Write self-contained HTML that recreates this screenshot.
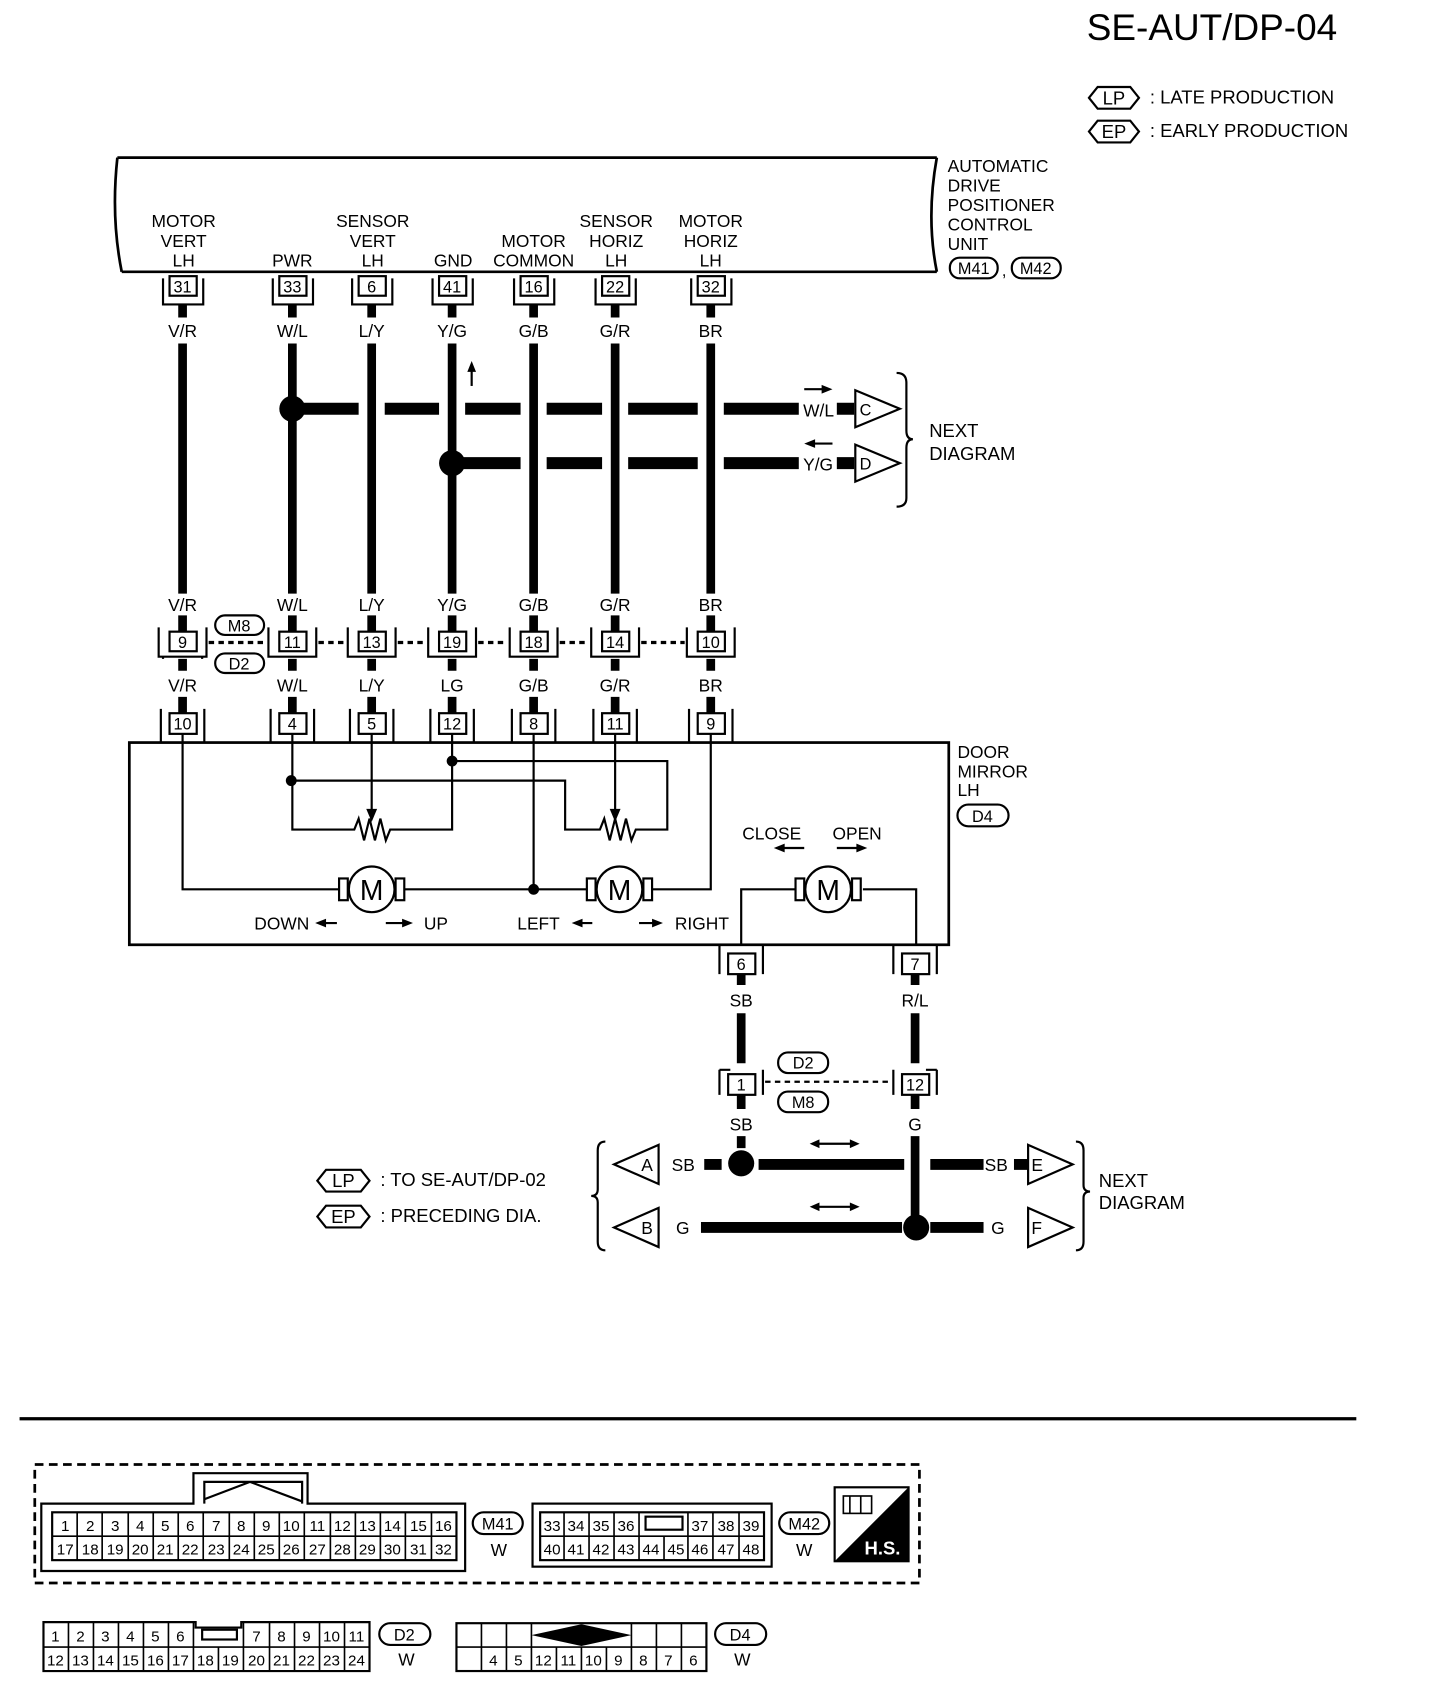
<!DOCTYPE html>
<html><head><meta charset="utf-8"><style>
html,body{margin:0;padding:0;background:#fff;}
svg{display:block;}
text{font-family:"Liberation Sans",Arial,sans-serif;fill:#000;}
</style></head><body>
<svg width="1440" height="1708" viewBox="0 0 1325 1571" preserveAspectRatio="none" xmlns="http://www.w3.org/2000/svg">
<rect width="1325" height="1571" fill="#fff"/>
<!-- title -->
<text x="1000" y="37" font-size="34">SE-AUT/DP-04</text>
<g fill="none" stroke="#000" stroke-width="2">
<path d="M1002,90 l8,-10 h30 l8,10 l-8,10 h-30 z"/>
<path d="M1002,121 l8,-10 h30 l8,10 l-8,10 h-30 z"/>
</g>
<g font-size="17">
<text x="1025" y="96" text-anchor="middle">LP</text>
<text x="1025" y="127" text-anchor="middle">EP</text>
<text x="1058" y="95">: LATE PRODUCTION</text>
<text x="1058" y="126">: EARLY PRODUCTION</text>
</g>

<!-- control unit -->
<g fill="none" stroke="#000" stroke-width="2.5">
<path d="M108,145 H862 M112,250 H862"/>
<path d="M108,145 Q102,200 112,250"/>
<path d="M862,145 Q852,200 862,250"/>
</g>
<g font-size="16">
<text x="872" y="158">AUTOMATIC</text>
<text x="872" y="176">DRIVE</text>
<text x="872" y="194">POSITIONER</text>
<text x="872" y="212">CONTROL</text>
<text x="872" y="230">UNIT</text>
</g>
<g fill="none" stroke="#000" stroke-width="2">
<rect x="874" y="237" width="44" height="19" rx="9"/>
<rect x="931" y="237" width="45" height="19" rx="9"/>
</g>
<g font-size="15" text-anchor="middle">
<text x="896" y="252">M41</text><text x="924" y="254">,</text><text x="953" y="252">M42</text>
</g>
<g font-size="16" text-anchor="middle">
<text x="169" y="209">MOTOR</text><text x="169" y="227">VERT</text><text x="169" y="245">LH</text>
<text x="269" y="245">PWR</text>
<text x="343" y="209">SENSOR</text><text x="343" y="227">VERT</text><text x="343" y="245">LH</text>
<text x="417" y="245">GND</text>
<text x="491" y="227">MOTOR</text><text x="491" y="245">COMMON</text>
<text x="567" y="209">SENSOR</text><text x="567" y="227">HORIZ</text><text x="567" y="245">LH</text>
<text x="654" y="209">MOTOR</text><text x="654" y="227">HORIZ</text><text x="654" y="245">LH</text>
</g>

<!-- top connectors -->
<g fill="none" stroke="#000" stroke-width="2">
<rect x="156" y="254" width="25" height="18"/><path d="M150,256 V280 H187 V256"/>
<rect x="257" y="254" width="25" height="18"/><path d="M251,256 V280 H288 V256"/>
<rect x="330" y="254" width="25" height="18"/><path d="M324,256 V280 H361 V256"/>
<rect x="404" y="254" width="25" height="18"/><path d="M398,256 V280 H435 V256"/>
<rect x="479" y="254" width="25" height="18"/><path d="M473,256 V280 H510 V256"/>
<rect x="554" y="254" width="25" height="18"/><path d="M548,256 V280 H585 V256"/>
<rect x="642" y="254" width="25" height="18"/><path d="M636,256 V280 H673 V256"/>
</g>
<g font-size="15" text-anchor="middle">
<text x="168" y="269">31</text><text x="269" y="269">33</text><text x="342" y="269">6</text><text x="416" y="269">41</text><text x="491" y="269">16</text><text x="566" y="269">22</text><text x="654" y="269">32</text>
</g>
<g font-size="16" text-anchor="middle">
<text x="168" y="310">V/R</text><text x="269" y="310">W/L</text><text x="342" y="310">L/Y</text><text x="416" y="310">Y/G</text><text x="491" y="310">G/B</text><text x="566" y="310">G/R</text><text x="654" y="310">BR</text>
<text x="168" y="562">V/R</text><text x="269" y="562">W/L</text><text x="342" y="562">L/Y</text><text x="416" y="562">Y/G</text><text x="491" y="562">G/B</text><text x="566" y="562">G/R</text><text x="654" y="562">BR</text>
<text x="168" y="636">V/R</text><text x="269" y="636">W/L</text><text x="342" y="636">L/Y</text><text x="416" y="636">LG</text><text x="491" y="636">G/B</text><text x="566" y="636">G/R</text><text x="654" y="636">BR</text>
</g>

<!-- thick wires -->
<g stroke="#000" stroke-width="8" fill="none">
<path d="M168,280 V292 M269,280 V292 M342,280 V292 M416,280 V292 M491,280 V292 M566,280 V292 M654,280 V292"/>
<path d="M168,316 V546 M269,316 V546 M342,316 V546 M416,316 V546 M491,316 V546 M566,316 V546 M654,316 V546"/>
<path d="M168,566 V581 M269,566 V581 M342,566 V581 M416,566 V581 M491,566 V581 M566,566 V581 M654,566 V581"/>
<path d="M168,606 V617 M269,606 V617 M342,606 V617 M416,606 V617 M491,606 V617 M566,606 V617 M654,606 V617"/>
<path d="M168,641 V656 M269,641 V656 M342,641 V656 M416,641 V656 M491,641 V656 M566,641 V656 M654,641 V656"/>
</g>
<g stroke="#000" stroke-width="11" fill="none">
<path d="M269,376 H330 M354,376 H404 M428,376 H479 M503,376 H554 M578,376 H642 M666,376 H735"/>
<path d="M416,426 H479 M503,426 H554 M578,426 H642 M666,426 H735"/>
<path d="M770,376 H786 M770,426 H786"/>
</g>
<circle cx="269" cy="376" r="12"/>
<circle cx="416" cy="426" r="12"/>
<path d="M434,355 V337" stroke="#000" stroke-width="2"/><path d="M430,342 L434,332 L438,342 z"/>
<g font-size="16">
<text x="739" y="383">W/L</text><text x="739" y="433">Y/G</text>
</g>
<path d="M740,358 H758" stroke="#000" stroke-width="2"/><path d="M756,354 L766,358 L756,362 z"/>
<path d="M748,408 H766" stroke="#000" stroke-width="2"/><path d="M750,404 L740,408 L750,412 z"/>
<g fill="#fff" stroke="#000" stroke-width="2">
<path d="M787,359 L828,376 L787,393 z"/>
<path d="M787,409 L828,426 L787,443 z"/>
</g>
<g font-size="15"><text x="791" y="382">C</text><text x="791" y="432">D</text></g>
<path d="M825,343 Q834,343 834,352 V396 Q834,404 840,404 Q834,404 834,412 V458 Q834,466 825,466" fill="none" stroke="#000" stroke-width="2"/>
<g font-size="17"><text x="855" y="402">NEXT</text><text x="855" y="423">DIAGRAM</text></g>

<!-- middle connectors -->
<g fill="none" stroke="#000" stroke-width="2">
<rect x="156" y="581" width="25" height="18"/><path d="M146,577 V604 H190 V577 M150,604 V606 M186,604 V606"/>
<rect x="257" y="581" width="25" height="18"/><path d="M247,577 V604 H291 V577"/>
<rect x="330" y="581" width="25" height="18"/><path d="M320,577 V604 H364 V577"/>
<rect x="404" y="581" width="25" height="18"/><path d="M394,577 V604 H438 V577"/>
<rect x="479" y="581" width="25" height="18"/><path d="M469,577 V604 H513 V577"/>
<rect x="554" y="581" width="25" height="18"/><path d="M544,577 V604 H588 V577"/>
<rect x="642" y="581" width="25" height="18"/><path d="M632,577 V604 H676 V577"/>
<rect x="198" y="566" width="45" height="18" rx="9"/>
<rect x="198" y="601" width="45" height="18" rx="9"/>
</g>
<g stroke="#000" stroke-width="3" stroke-dasharray="5,4" fill="none">
<path d="M192,591 H246 M293,591 H318 M366,591 H392 M440,591 H467 M515,591 H542 M590,591 H630"/>
</g>
<g font-size="15" text-anchor="middle">
<text x="168" y="596">9</text><text x="269" y="596">11</text><text x="342" y="596">13</text><text x="416" y="596">19</text><text x="491" y="596">18</text><text x="566" y="596">14</text><text x="654" y="596">10</text>
<text x="220" y="581">M8</text><text x="220" y="616">D2</text>
</g>

<!-- door mirror connectors -->
<g fill="none" stroke="#000" stroke-width="2">
<rect x="156" y="656" width="25" height="19"/><path d="M148,652 V683 M188,652 V683"/>
<rect x="257" y="656" width="25" height="19"/><path d="M249,652 V683 M289,652 V683"/>
<rect x="330" y="656" width="25" height="19"/><path d="M322,652 V683 M362,652 V683"/>
<rect x="404" y="656" width="25" height="19"/><path d="M396,652 V683 M436,652 V683"/>
<rect x="479" y="656" width="25" height="19"/><path d="M471,652 V683 M511,652 V683"/>
<rect x="554" y="656" width="25" height="19"/><path d="M546,652 V683 M586,652 V683"/>
<rect x="642" y="656" width="25" height="19"/><path d="M634,652 V683 M674,652 V683"/>
</g>
<g font-size="15" text-anchor="middle">
<text x="168" y="671">10</text><text x="269" y="671">4</text><text x="342" y="671">5</text><text x="416" y="671">12</text><text x="491" y="671">8</text><text x="566" y="671">11</text><text x="654" y="671">9</text>
</g>

<!-- door mirror box -->
<rect x="119" y="683" width="754" height="186" fill="none" stroke="#000" stroke-width="2.5"/>
<g font-size="16"><text x="881" y="697">DOOR</text><text x="881" y="715">MIRROR</text><text x="881" y="732">LH</text></g>
<rect x="881" y="740" width="47" height="20" rx="10" fill="none" stroke="#000" stroke-width="2"/>
<text x="904" y="756" font-size="15" text-anchor="middle">D4</text>

<g fill="none" stroke="#000" stroke-width="2">
<!-- motor lines -->
<path d="M168,675 V818 H312"/>
<path d="M372,818 H540"/>
<path d="M491,675 V818"/>
<path d="M600,818 H654 V675"/>
<!-- sensors -->
<path d="M269,675 V763 H322 l4,0 l4,-10 l5,20 l5,-20 l5,20 l5,-20 l5,20 l4,-10 H416 V675"/>
<path d="M268,718 H520 V763 H548 l4,0 l4,-10 l5,20 l5,-20 l5,20 l5,-20 l5,20 l4,-10 H614 V700 H416"/>
<path d="M342,675 V745"/>
<path d="M566,675 V745"/>
<!-- motor 3 -->
<path d="M682,869 V818 H732 M794,818 H843 V869"/>
<!-- motors -->
<rect x="312" y="808" width="8" height="20"/><rect x="364" y="808" width="8" height="20"/>
<circle cx="342" cy="818" r="21"/>
<rect x="540" y="808" width="8" height="20"/><rect x="592" y="808" width="8" height="20"/>
<circle cx="570" cy="818" r="21"/>
<rect x="732" y="808" width="8" height="20"/><rect x="784" y="808" width="8" height="20"/>
<circle cx="762" cy="818" r="21"/>
</g>
<path d="M337,744 L342,756 L347,744 z"/>
<path d="M561,744 L566,756 L571,744 z"/>
<circle cx="268" cy="718" r="5"/><circle cx="416" cy="700" r="5"/><circle cx="491" cy="818" r="5"/>
<g font-size="26" text-anchor="middle"><text x="342" y="828">M</text><text x="570" y="828">M</text><text x="762" y="828">M</text></g>
<g font-size="16">
<text x="234" y="855">DOWN</text><text x="390" y="855">UP</text>
<text x="476" y="855">LEFT</text><text x="621" y="855">RIGHT</text>
<text x="683" y="772">CLOSE</text><text x="766" y="772">OPEN</text>
</g>
<g stroke="#000" stroke-width="2">
<path d="M298,849 H310 M355,849 H372 M530,849 H545 M588,849 H603 M720,780 H740 M770,780 H790"/>
</g>
<path d="M300,845 L290,849 L300,853 z M370,845 L380,849 L370,853 z M536,845 L526,849 L536,853 z M600,845 L610,849 L600,853 z M722,776 L712,780 L722,784 z M788,776 L798,780 L788,784 z"/>

<!-- pins 6 & 7 -->
<g fill="none" stroke="#000" stroke-width="2">
<rect x="670" y="877" width="25" height="19"/><path d="M662,869 V896 M702,869 V896"/>
<rect x="830" y="877" width="25" height="19"/><path d="M822,869 V896 M862,869 V896"/>
<rect x="670" y="988" width="25" height="19"/><path d="M662,984 V1007 M702,984 V1007 M662,984 H672"/>
<rect x="830" y="988" width="25" height="19"/><path d="M822,984 V1007 M862,984 V1007 M852,984 H862"/>
<rect x="716" y="968" width="46" height="19" rx="9"/>
<rect x="716" y="1004" width="46" height="19" rx="9"/>
</g>
<path d="M704,995 H820" stroke="#000" stroke-width="2" stroke-dasharray="5,4"/>
<g font-size="15" text-anchor="middle">
<text x="682" y="892">6</text><text x="842" y="892">7</text><text x="682" y="1003">1</text><text x="842" y="1003">12</text>
<text x="739" y="983">D2</text><text x="739" y="1019">M8</text>
</g>
<g font-size="16" text-anchor="middle">
<text x="682" y="926">SB</text><text x="842" y="926">R/L</text>
<text x="682" y="1040">SB</text><text x="842" y="1040">G</text>
</g>
<g stroke="#000" stroke-width="8" fill="none">
<path d="M682,896 V906 M842,896 V906 M682,932 V978 M842,932 V978 M682,1007 V1020 M842,1007 V1020 M682,1045 V1056"/>
<path d="M842,1045 V1130"/>
</g>
<g stroke="#000" stroke-width="10" fill="none">
<path d="M648,1071 H664 M698,1071 H832 M856,1071 H905 M933,1071 H946"/>
<path d="M645,1129 H830 M856,1129 H905"/>
</g>
<circle cx="682" cy="1070" r="12"/><circle cx="843" cy="1129" r="12"/>
<g fill="#fff" stroke="#000" stroke-width="2">
<path d="M606,1053 L565,1071 L606,1089 z"/>
<path d="M606,1111 L565,1129 L606,1147 z"/>
<path d="M946,1053 L987,1071 L946,1089 z"/>
<path d="M946,1111 L987,1129 L946,1147 z"/>
</g>
<g font-size="16">
<text x="590" y="1077">A</text><text x="590" y="1135">B</text>
<text x="949" y="1077">E</text><text x="949" y="1135">F</text>
<text x="618" y="1077">SB</text><text x="622" y="1135">G</text>
<text x="906" y="1077">SB</text><text x="912" y="1135">G</text>
</g>
<g stroke="#000" stroke-width="2"><path d="M752,1052 H784 M752,1110 H784"/></g>
<path d="M754,1048 L745,1052 L754,1056 z M782,1048 L791,1052 L782,1056 z M754,1106 L745,1110 L754,1114 z M782,1106 L791,1110 L782,1114 z"/>
<path d="M557,1050 Q550,1050 550,1058 V1094 Q550,1100 544,1100 Q550,1100 550,1106 V1142 Q550,1150 557,1150" fill="none" stroke="#000" stroke-width="2"/>
<path d="M990,1050 Q997,1050 997,1058 V1090 Q997,1096 1003,1096 Q997,1096 997,1102 V1142 Q997,1150 990,1150" fill="none" stroke="#000" stroke-width="2"/>
<g font-size="17"><text x="1011" y="1092">NEXT</text><text x="1011" y="1112">DIAGRAM</text></g>
<g fill="none" stroke="#000" stroke-width="2">
<path d="M292,1086 l8,-10 h32 l8,10 l-8,10 h-32 z"/>
<path d="M292,1119 l8,-10 h32 l8,10 l-8,10 h-32 z"/>
</g>
<g font-size="17">
<text x="316" y="1092" text-anchor="middle">LP</text><text x="316" y="1125" text-anchor="middle">EP</text>
<text x="350" y="1091">: TO SE-AUT/DP-02</text>
<text x="350" y="1124">: PRECEDING DIA.</text>
</g>

<!-- rule -->
<path d="M18,1305 H1248" stroke="#000" stroke-width="3"/>

<!-- connector diagrams -->
<rect x="32" y="1347" width="814" height="109" fill="none" stroke="#000" stroke-width="2.5" stroke-dasharray="8,5"/>
<g fill="none" stroke="#000" stroke-width="2">
<path d="M38,1445 V1383 H178 V1355 H283 V1383 H428 V1445 Z"/>
<path d="M188,1383 V1363 H278 V1383 M188,1379 L230,1363 L278,1381"/>
<rect x="48" y="1391" width="372" height="44"/>
<rect x="490" y="1383" width="220" height="58"/>
<rect x="497" y="1391" width="206" height="44"/>
<rect x="594" y="1395" width="34" height="12"/>
<rect x="435" y="1391" width="46" height="20" rx="10"/>
<rect x="717" y="1391" width="46" height="20" rx="10"/>
</g>
<g stroke="#000" stroke-width="1.5" fill="none">
<path d="M48,1413 H420 M71,1391 V1435 M94,1391 V1435 M118,1391 V1435 M141,1391 V1435 M164,1391 V1435 M187,1391 V1435 M211,1391 V1435 M234,1391 V1435 M257,1391 V1435 M280,1391 V1435 M304,1391 V1435 M327,1391 V1435 M350,1391 V1435 M373,1391 V1435 M397,1391 V1435"/>
<path d="M497,1413 H703 M519,1391 V1435 M542,1391 V1435 M565,1391 V1435 M588,1391 V1435 M611,1413 V1435 M633,1391 V1435 M656,1391 V1435 M680,1391 V1435"/>
</g>
<g font-size="14" text-anchor="middle">
<text x="60" y="1408">1</text><text x="83" y="1408">2</text><text x="106" y="1408">3</text><text x="129" y="1408">4</text><text x="152" y="1408">5</text><text x="175" y="1408">6</text><text x="199" y="1408">7</text><text x="222" y="1408">8</text><text x="245" y="1408">9</text><text x="268" y="1408">10</text><text x="292" y="1408">11</text><text x="315" y="1408">12</text><text x="338" y="1408">13</text><text x="361" y="1408">14</text><text x="385" y="1408">15</text><text x="408" y="1408">16</text>
<text x="60" y="1430">17</text><text x="83" y="1430">18</text><text x="106" y="1430">19</text><text x="129" y="1430">20</text><text x="152" y="1430">21</text><text x="175" y="1430">22</text><text x="199" y="1430">23</text><text x="222" y="1430">24</text><text x="245" y="1430">25</text><text x="268" y="1430">26</text><text x="292" y="1430">27</text><text x="315" y="1430">28</text><text x="338" y="1430">29</text><text x="361" y="1430">30</text><text x="385" y="1430">31</text><text x="408" y="1430">32</text>
<text x="508" y="1408">33</text><text x="530" y="1408">34</text><text x="553" y="1408">35</text><text x="576" y="1408">36</text><text x="644" y="1408">37</text><text x="668" y="1408">38</text><text x="691" y="1408">39</text>
<text x="508" y="1430">40</text><text x="530" y="1430">41</text><text x="553" y="1430">42</text><text x="576" y="1430">43</text><text x="599" y="1430">44</text><text x="622" y="1430">45</text><text x="644" y="1430">46</text><text x="668" y="1430">47</text><text x="691" y="1430">48</text>
<text x="458" y="1407" font-size="15">M41</text><text x="740" y="1407" font-size="15">M42</text>
<text x="459" y="1431" font-size="16">W</text><text x="740" y="1431" font-size="16">W</text>
</g>
<rect x="768" y="1368" width="68" height="68" fill="#fff" stroke="#000" stroke-width="2"/>
<path d="M836,1368 L836,1436 L768,1436 Z"/>
<g fill="none" stroke="#000" stroke-width="1.5"><rect x="776" y="1376" width="26" height="16"/><path d="M782,1376 V1392 M792,1376 V1392"/></g>
<text x="812" y="1430" font-size="17" font-weight="bold" style="fill:#fff" text-anchor="middle">H.S.</text>

<!-- D2 -->
<g fill="none" stroke="#000" stroke-width="2">
<path d="M40,1537 V1492 H180 V1497 H222 V1492 H340 V1537 Z"/>
<rect x="186" y="1499" width="32" height="9"/>
<rect x="349" y="1493" width="47" height="20" rx="10"/>
</g>
<g stroke="#000" stroke-width="1.5" fill="none">
<path d="M40,1515 H340 M63,1492 V1537 M86,1492 V1537 M109,1492 V1537 M132,1492 V1537 M155,1492 V1537 M178,1492 V1537 M201,1515 V1537 M224,1492 V1537 M248,1492 V1537 M271,1492 V1537 M294,1492 V1537 M317,1492 V1537"/>
</g>
<g font-size="14" text-anchor="middle">
<text x="51" y="1510">1</text><text x="74" y="1510">2</text><text x="97" y="1510">3</text><text x="120" y="1510">4</text><text x="143" y="1510">5</text><text x="166" y="1510">6</text><text x="236" y="1510">7</text><text x="259" y="1510">8</text><text x="282" y="1510">9</text><text x="305" y="1510">10</text><text x="328" y="1510">11</text>
<text x="51" y="1532">12</text><text x="74" y="1532">13</text><text x="97" y="1532">14</text><text x="120" y="1532">15</text><text x="143" y="1532">16</text><text x="166" y="1532">17</text><text x="189" y="1532">18</text><text x="212" y="1532">19</text><text x="236" y="1532">20</text><text x="259" y="1532">21</text><text x="282" y="1532">22</text><text x="305" y="1532">23</text><text x="328" y="1532">24</text>
<text x="372" y="1509" font-size="15">D2</text><text x="374" y="1532" font-size="16">W</text>
</g>
<!-- D4 -->
<g fill="none" stroke="#000" stroke-width="2">
<rect x="420" y="1493" width="230" height="44"/>
<rect x="658" y="1493" width="47" height="20" rx="10"/>
</g>
<g stroke="#000" stroke-width="1.5" fill="none">
<path d="M420,1515 H650 M443,1493 V1537 M466,1493 V1537 M489,1493 V1537 M512,1515 V1537 M535,1515 V1537 M558,1515 V1537 M581,1493 V1537 M604,1493 V1537 M627,1493 V1537"/>
</g>
<path d="M489,1504 L535,1494 L581,1504 L535,1514 Z"/>
<g font-size="14" text-anchor="middle">
<text x="454" y="1532">4</text><text x="477" y="1532">5</text><text x="500" y="1532">12</text><text x="523" y="1532">11</text><text x="546" y="1532">10</text><text x="569" y="1532">9</text><text x="592" y="1532">8</text><text x="615" y="1532">7</text><text x="638" y="1532">6</text>
<text x="681" y="1509" font-size="15">D4</text><text x="683" y="1532" font-size="16">W</text>
</g>
</svg>
</body></html>
